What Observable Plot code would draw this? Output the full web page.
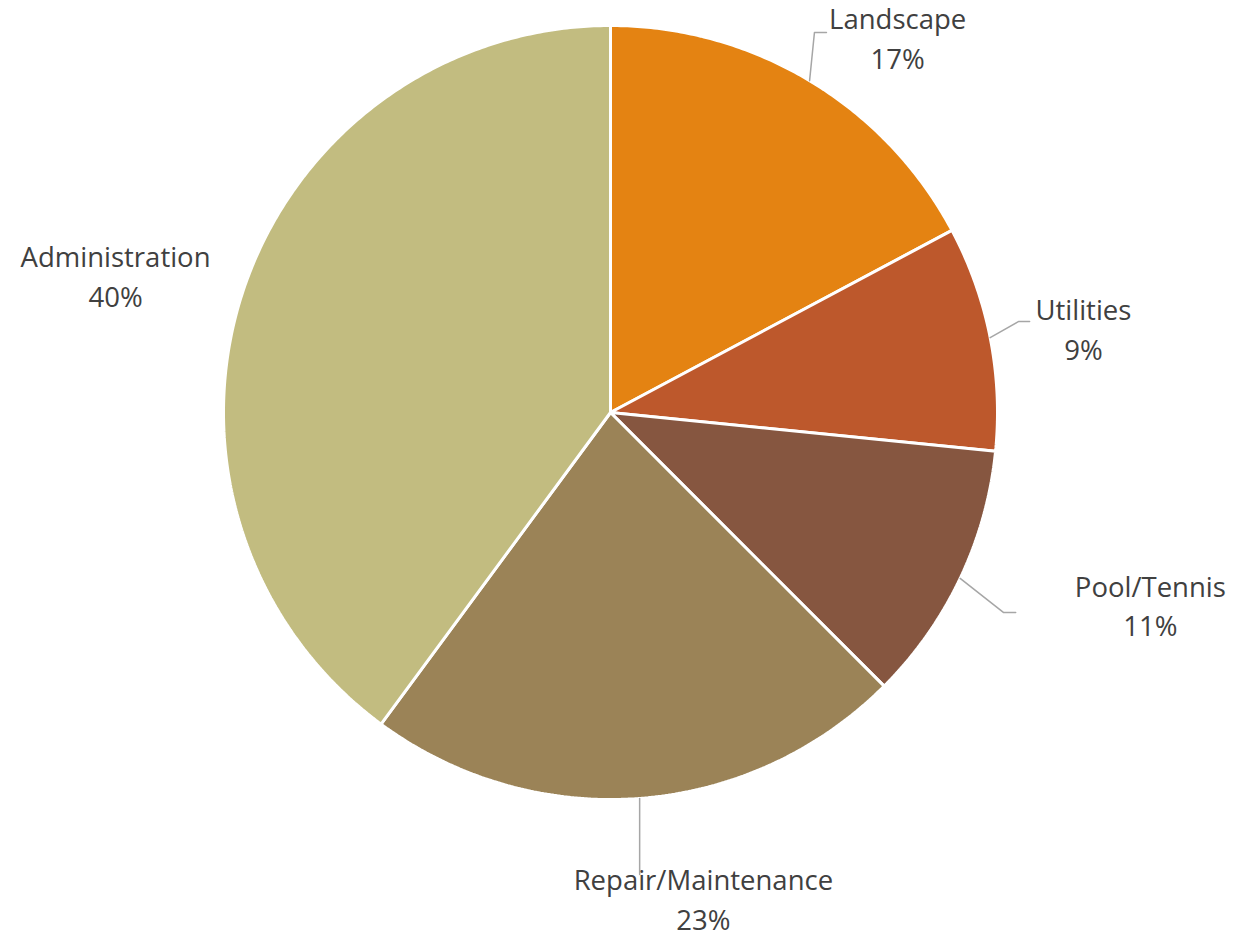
<!DOCTYPE html>
<html>
<head>
<meta charset="utf-8">
<script src="https://cdn.jsdelivr.net/npm/d3@7"></script>
<script src="https://cdn.jsdelivr.net/npm/@observablehq/plot@0.6"></script>
<style>
  html, body { margin: 0; padding: 0; background: #ffffff; }
  #chart svg { display: block; }
</style>
</head>
<body>
<div id="chart"></div>
<script>
// ---- data ----
const categories = ["Landscape", "Utilities", "Pool/Tennis", "Repair/Maintenance", "Administration"];
const values = [17.2, 9.4, 10.9, 22.6, 39.9];
const percentLabels = ["17%", "9%", "11%", "23%", "40%"];
const colors = ["#E48312", "#BD582C", "#865640", "#9B8357", "#C2BC80"];

// ---- layout (in units of pie radius, origin at pie centre) ----
const W = 1249, H = 937;
const R = 387, CX = 610, CY = 412;
const labelPos = [[0.742, 0.973], [1.222, 0.221], [1.395, -0.494], [0.240, -1.252], [-1.279, 0.358]];
// leader: [elbow, end] or null
const leaderPts = [
  [[0.527, 0.982], [0.558, 0.982]],
  [[1.054, 0.235], [1.083, 0.235]],
  [[1.016, -0.517], [1.047, -0.517]],
  [null, [null, -1.194]],
  null
];

// ---- geometry from data ----
const arcs = d3.pie().sort(null).value(d => d)(values);
const slices = [];
arcs.forEach((a, i) => {
  slices.push({cat: categories[i], u: 0, v: 0});
  const n = Math.max(2, Math.ceil((a.endAngle - a.startAngle) / (Math.PI / 360)));
  for (let k = 0; k <= n; k++) {
    const t = a.startAngle + (a.endAngle - a.startAngle) * k / n;
    slices.push({cat: categories[i], u: Math.sin(t), v: Math.cos(t)});
  }
});

const leaders = [];
arcs.forEach((a, i) => {
  const lp = leaderPts[i];
  if (!lp) return;
  const m = (a.startAngle + a.endAngle) / 2;
  const eu = Math.sin(m), ev = Math.cos(m);
  leaders.push({cat: categories[i], u: eu, v: ev});
  if (lp[0]) leaders.push({cat: categories[i], u: lp[0][0], v: lp[0][1]});
  const endU = lp[1][0] == null ? eu : lp[1][0];
  leaders.push({cat: categories[i], u: endU, v: lp[1][1]});
});

const labels = categories.map((c, i) => ({
  u: labelPos[i][0], v: labelPos[i][1], text: c + "\n" + percentLabels[i]
}));

const chart = Plot.plot({
  width: W,
  height: H,
  margin: 0,
  style: {background: "#ffffff"},
  x: {axis: null, domain: [-CX / R, (W - CX) / R]},
  y: {axis: null, domain: [(CY - H) / R, CY / R]},
  color: {domain: categories, range: colors},
  marks: [
    Plot.line(slices, {
      x: "u", y: "v", z: "cat", fill: "cat",
      stroke: "#ffffff", strokeWidth: 3, strokeLinejoin: "miter",
      curve: "linear-closed"
    }),
    Plot.line(leaders, {
      x: "u", y: "v", z: "cat",
      stroke: "#A6A6A6", strokeWidth: 1.5
    }),
    Plot.text(labels, {
      x: "u", y: "v", text: "text",
      fontFamily: "'Open Sans', sans-serif",
      fontSize: 27.5, lineHeight: 1.45,
      fill: "#404040", textAnchor: "middle"
    })
  ]
});
document.getElementById("chart").appendChild(chart);
</script>
</body>
</html>
